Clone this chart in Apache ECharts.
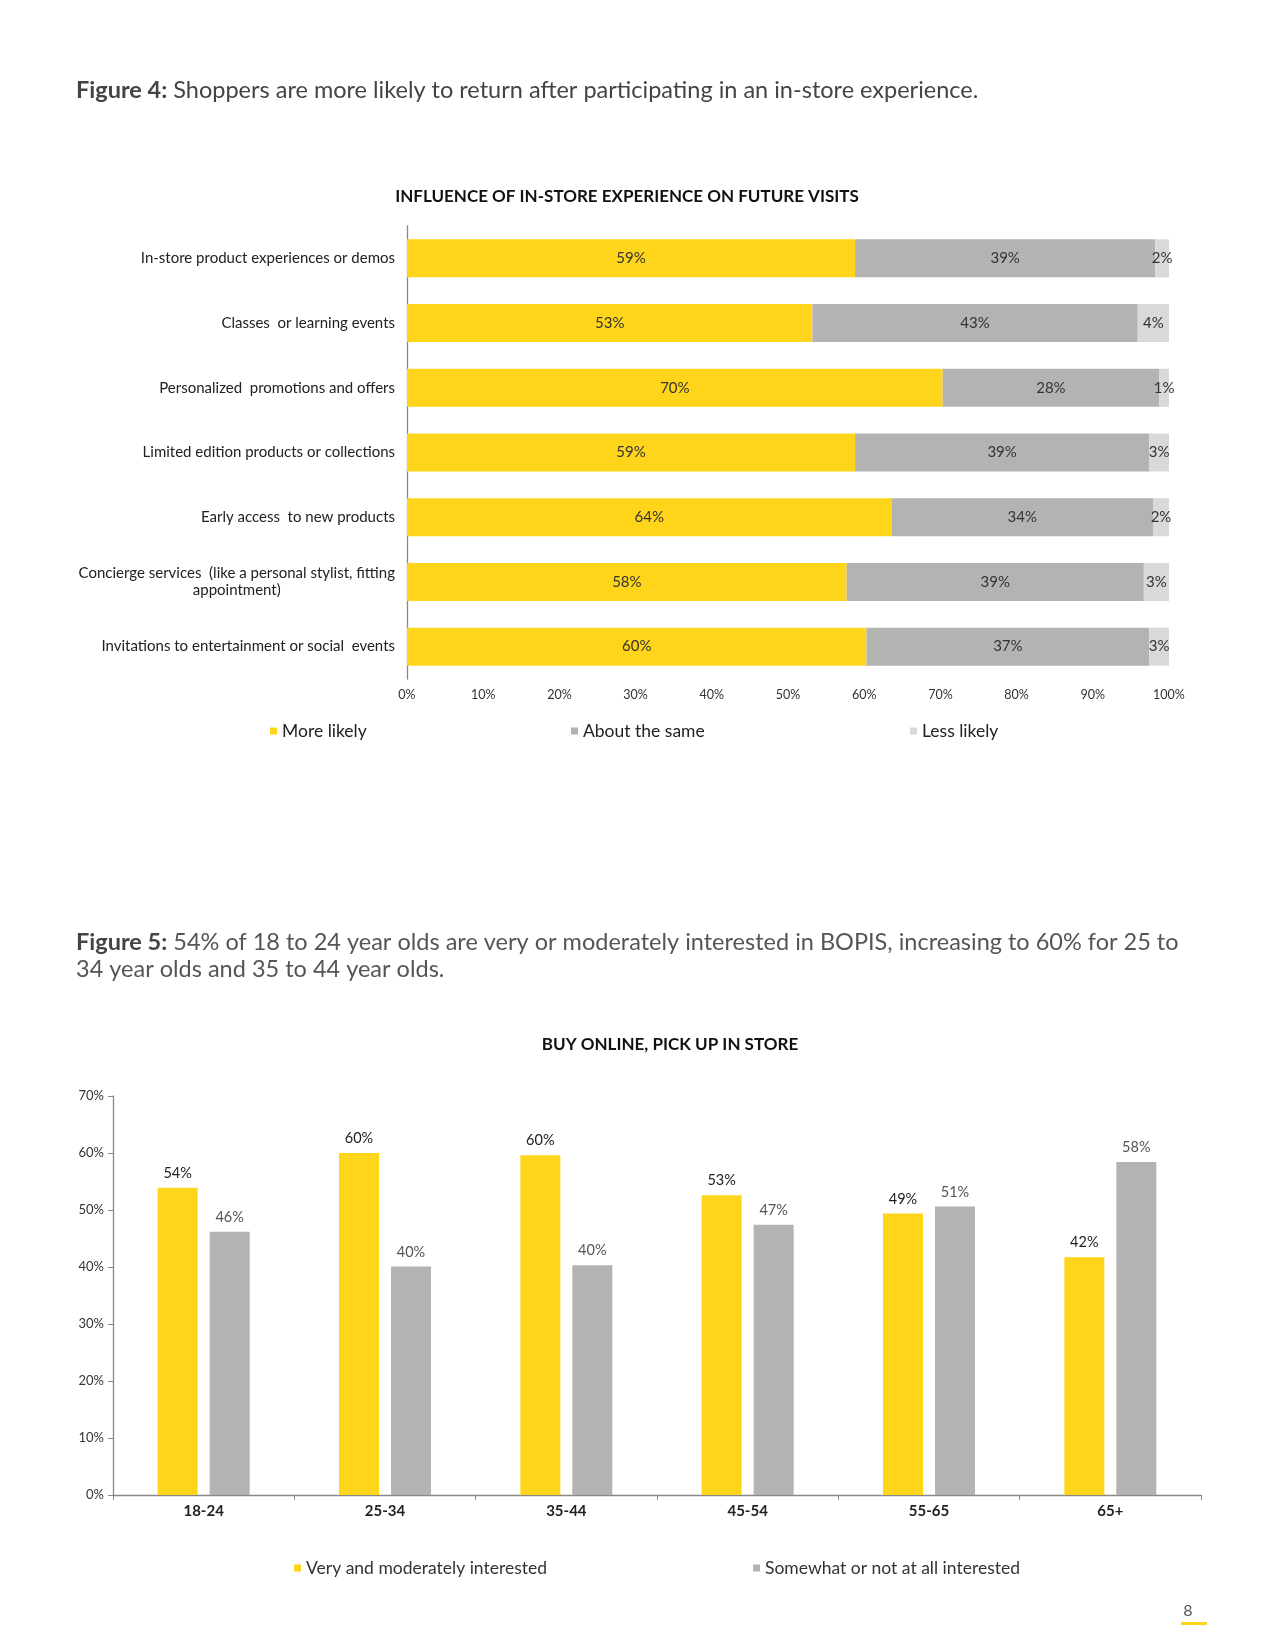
<!DOCTYPE html>
<html><head><meta charset="utf-8">
<script src="https://cdn.jsdelivr.net/npm/echarts@6/dist/echarts.min.js"></script>
<style>html,body{margin:0;padding:0;background:#fff}#c{width:1275px;height:1650px}</style>
</head><body><div id="c"></div>
<script>
// ---- Figure 4 data ----
const fig4Categories = [
  'In-store product experiences or demos',
  'Classes  or learning events',
  'Personalized  promotions and offers',
  'Limited edition products or collections',
  'Early access  to new products',
  'Concierge services  (like a personal stylist, fitting\nappointment)',
  'Invitations to entertainment or social  events'
];
const moreLikely = [58.8, 53.2, 70.3, 58.8, 63.6, 57.7, 60.3];
const aboutSame  = [39.4, 42.7, 28.4, 38.6, 34.3, 39.0, 37.1];
const lessLikely = [1.8, 4.1, 1.3, 2.6, 2.1, 3.3, 2.6];
const fig4Series = ['More likely', 'About the same', 'Less likely'];

// ---- Figure 5 data ----
const ageGroups = ['18-24', '25-34', '35-44', '45-54', '55-65', '65+'];
const interested    = [53.9, 60.0, 59.6, 52.6, 49.4, 41.7];
const notInterested = [46.2, 40.1, 40.3, 47.4, 50.6, 58.4];
const fig5Series = ['Very and moderately interested', 'Somewhat or not at all interested'];

const YELLOW = '#FED51B', GRAY = '#B3B3B3', LIGHT = '#D9D9D9';
const FONT = 'Lato';

const chart = echarts.init(document.getElementById('c'), null, {renderer: 'canvas'});

const pct = v => Math.round(v) + '%';

function catLabel(v) {
  if (v.indexOf('\n') >= 0) {
    return v.split('\n').map(s => '{c|' + s + '}').join('\n');
  }
  return v;
}

const option = {
  backgroundColor: '#fff',
  animation: false,
  textStyle: {fontFamily: FONT},
  graphic: [
    {type: 'text', x: 76, y: 90, style: {
      text: '{b|Figure 4:} Shoppers are more likely to return after participating in an in-store experience.',
      fontFamily: FONT, fontSize: 23.5, fill: '#444', textVerticalAlign: 'middle',
      rich: {b: {fontFamily: FONT, fontSize: 23.5, fontWeight: 'bold', fill: '#444'}}
    }},
    {type: 'text', x: 627, y: 197, style: {
      text: 'INFLUENCE OF IN-STORE EXPERIENCE ON FUTURE VISITS',
      fontFamily: FONT, fontSize: 17, fontWeight: 'bold', fill: '#111',
      textAlign: 'center', textVerticalAlign: 'middle'
    }},
    {type: 'text', x: 76, y: 929, style: {
      text: '{b|Figure 5:} 54% of 18 to 24 year olds are very or moderately interested in BOPIS, increasing to 60% for 25 to\n34 year olds and 35 to 44 year olds.',
      fontFamily: FONT, fontSize: 23.5, fill: '#555', lineHeight: 27,
      rich: {b: {fontFamily: FONT, fontSize: 23.5, fontWeight: 'bold', fill: '#444', lineHeight: 27}}
    }},
    {type: 'text', x: 670, y: 1045, style: {
      text: 'BUY ONLINE, PICK UP IN STORE',
      fontFamily: FONT, fontSize: 17, fontWeight: 'bold', fill: '#111',
      textAlign: 'center', textVerticalAlign: 'middle'
    }},
    {type: 'text', x: 1188, y: 1611, style: {
      text: '8', fontFamily: FONT, fontSize: 16, fill: '#555',
      textAlign: 'center', textVerticalAlign: 'middle'
    }},
    {type: 'rect', shape: {x: 1181, y: 1622, width: 26, height: 3}, style: {fill: YELLOW}}
  ],
  legend: [
    {data: [fig4Series[0]], left: 265, top: 717, icon: 'rect', itemWidth: 7, itemHeight: 7,
     textStyle: {fontFamily: FONT, fontSize: 17.5, color: '#222'}},
    {data: [fig4Series[1]], left: 566, top: 717, icon: 'rect', itemWidth: 7, itemHeight: 7,
     textStyle: {fontFamily: FONT, fontSize: 17.5, color: '#222'}},
    {data: [fig4Series[2]], left: 905, top: 717, icon: 'rect', itemWidth: 7, itemHeight: 7,
     textStyle: {fontFamily: FONT, fontSize: 17.5, color: '#222'}},
    {data: [fig5Series[0]], left: 289, top: 1554, icon: 'rect', itemWidth: 7, itemHeight: 7,
     textStyle: {fontFamily: FONT, fontSize: 17.5, color: '#333'}},
    {data: [fig5Series[1]], left: 748, top: 1554, icon: 'rect', itemWidth: 7, itemHeight: 7,
     textStyle: {fontFamily: FONT, fontSize: 17.5, color: '#333'}}
  ],
  grid: [
    {left: 407, right: 106, top: 226, height: 453, containLabel: false},
    {left: 113, right: 74, top: 1096, height: 399, containLabel: false}
  ],
  xAxis: [
    {gridIndex: 0, type: 'value', min: 0, max: 100, interval: 10,
     axisLine: {show: false}, axisTick: {show: false}, splitLine: {show: false},
     axisLabel: {formatter: v => v + '%', fontFamily: FONT, fontSize: 12.5, color: '#333', margin: 9}},
    {gridIndex: 1, type: 'category', data: ageGroups,
     axisLine: {show: true, lineStyle: {color: '#888', width: 1.3}},
     axisTick: {show: true, alignWithLabel: false, length: 5, lineStyle: {color: '#888'}},
     axisLabel: {fontFamily: FONT, fontSize: 15, fontWeight: 'bold', color: '#222', margin: 9}}
  ],
  yAxis: [
    {gridIndex: 0, type: 'category', data: fig4Categories, inverse: true,
     axisLine: {show: true, lineStyle: {color: '#888', width: 1.3}},
     axisTick: {show: false},
     axisLabel: {formatter: catLabel, fontFamily: FONT, fontSize: 15, color: '#222', margin: 12,
       lineHeight: 17,
       rich: {c: {align: 'center', fontFamily: FONT, fontSize: 15, color: '#222', lineHeight: 17}}}},
    {gridIndex: 1, type: 'value', min: 0, max: 70, interval: 10,
     axisLine: {show: true, lineStyle: {color: '#888', width: 1.3}},
     axisTick: {show: true, length: 5, lineStyle: {color: '#888'}},
     splitLine: {show: false},
     axisLabel: {formatter: v => v + '%', fontFamily: FONT, fontSize: 13, color: '#333', margin: 9}}
  ],
  series: [
    {name: fig4Series[0], type: 'bar', stack: 'f4', xAxisIndex: 0, yAxisIndex: 0, data: moreLikely,
     barWidth: 38, itemStyle: {color: YELLOW},
     label: {show: true, position: 'inside', formatter: p => pct(p.value), fontFamily: FONT, fontSize: 15, color: '#333'}},
    {name: fig4Series[1], type: 'bar', stack: 'f4', xAxisIndex: 0, yAxisIndex: 0, data: aboutSame,
     barWidth: 38, itemStyle: {color: GRAY},
     label: {show: true, position: 'inside', formatter: p => pct(p.value), fontFamily: FONT, fontSize: 15, color: '#333'}},
    {name: fig4Series[2], type: 'bar', stack: 'f4', xAxisIndex: 0, yAxisIndex: 0, data: lessLikely,
     barWidth: 38, itemStyle: {color: LIGHT},
     label: {show: true, position: 'inside', formatter: p => pct(p.value), fontFamily: FONT, fontSize: 15, color: '#333'}},
    {name: fig5Series[0], type: 'bar', xAxisIndex: 1, yAxisIndex: 1, data: interested,
     barWidth: 40, barGap: '30%', itemStyle: {color: YELLOW},
     label: {show: true, position: 'top', distance: 7, formatter: p => pct(p.value), fontFamily: FONT, fontSize: 14.5, color: '#222'}},
    {name: fig5Series[1], type: 'bar', xAxisIndex: 1, yAxisIndex: 1, data: notInterested,
     barWidth: 40, barGap: '30%', itemStyle: {color: GRAY},
     label: {show: true, position: 'top', distance: 7, formatter: p => pct(p.value), fontFamily: FONT, fontSize: 14.5, color: '#555'}}
  ]
};
chart.setOption(option);
</script>
</body></html>
